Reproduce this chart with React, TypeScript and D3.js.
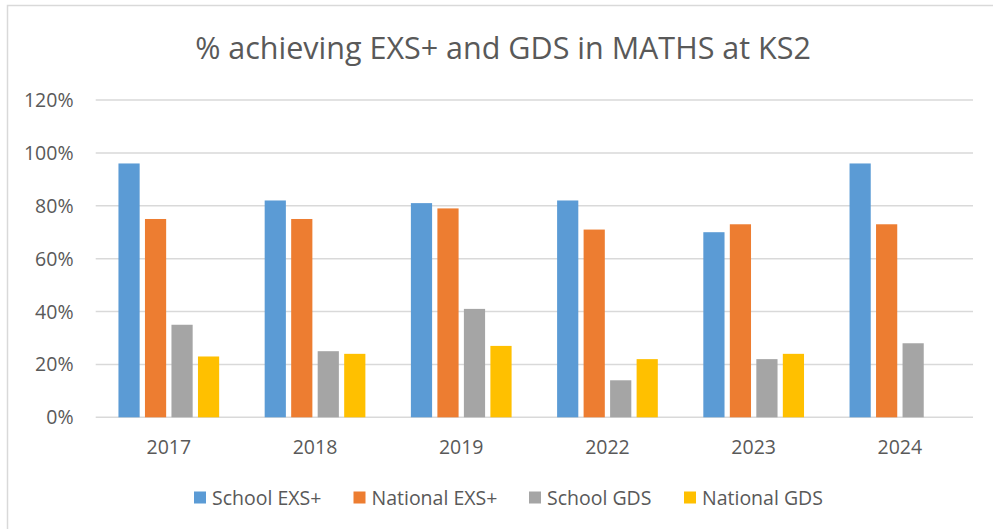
import React from 'react'
import * as d3 from 'd3'

const years = ['2017', '2018', '2019', '2022', '2023', '2024']
const seriesNames = ['School EXS+', 'National EXS+', 'School GDS', 'National GDS']
const seriesColors = ['#5B9BD5', '#ED7D31', '#A5A5A5', '#FFC000']

const schoolExs = [96, 82, 81, 82, 70, 96]
const nationalExs = [75, 75, 79, 71, 73, 73]
const schoolGds = [35, 25, 41, 14, 22, 28]
const nationalGds: (number | null)[] = [23, 24, 27, 22, 24, null]

const yTicks = [0, 20, 40, 60, 80, 100, 120]

const W = 993
const H = 529
const FONT = '"Open Sans", "Noto Sans", sans-serif'
const TEXT = '#595959'

export default function App() {
  const values = [schoolExs, nationalExs, schoolGds, nationalGds]

  const x0 = d3.scaleBand<string>().domain(years).range([95.7, 973]).paddingInner(0.275).paddingOuter(0.1375)
  const x1 = d3.scaleBand<string>().domain(seriesNames).range([0, x0.bandwidth()]).paddingInner(0.2).paddingOuter(0.1)
  const y = d3.scaleLinear().domain([0, 120]).range([417.3, 100])

  const legendX = [194, 353.5, 529, 684]

  return (
    <svg width={W} height={H} style={{ position: 'absolute', left: 0, top: 0, fontFamily: FONT }}>
      <rect x={7.5} y={5.5} width={1000} height={540} fill="#fff" stroke="#D9D9D9" strokeWidth={1.5} />
      <text x={503} y={58.5} textAnchor="middle" fontSize={30.5} fill={TEXT}>
        % achieving EXS+ and GDS in MATHS at KS2
      </text>

      {yTicks.map(t => (
        <g key={t}>
          <line x1={95.7} x2={973} y1={y(t)} y2={y(t)} stroke="#D9D9D9" strokeWidth={1.5} />
          <text x={73.5} y={y(t)} dy="0.36em" textAnchor="end" fontSize={19.5} fill={TEXT}>
            {t}%
          </text>
        </g>
      ))}

      {years.map((yr, i) => (
        <g key={yr} transform={`translate(${x0(yr)},0)`}>
          {seriesNames.map((s, j) => {
            const v = values[j][i]
            if (v == null) return null
            return (
              <rect
                key={s}
                x={x1(s)}
                y={y(v)}
                width={x1.bandwidth()}
                height={y(0) - y(v)}
                fill={seriesColors[j]}
              />
            )
          })}
          <text x={x0.bandwidth() / 2} y={446.7} dy="0.36em" textAnchor="middle" fontSize={19.5} fill={TEXT}>
            {yr}
          </text>
        </g>
      ))}

      {seriesNames.map((s, j) => (
        <g key={s} transform={`translate(${legendX[j]},497.5)`}>
          <rect x={0} y={-6} width={12} height={12} fill={seriesColors[j]} />
          <text x={18} y={0} dy="0.36em" fontSize={19.5} fill={TEXT}>
            {s}
          </text>
        </g>
      ))}
    </svg>
  )
}
